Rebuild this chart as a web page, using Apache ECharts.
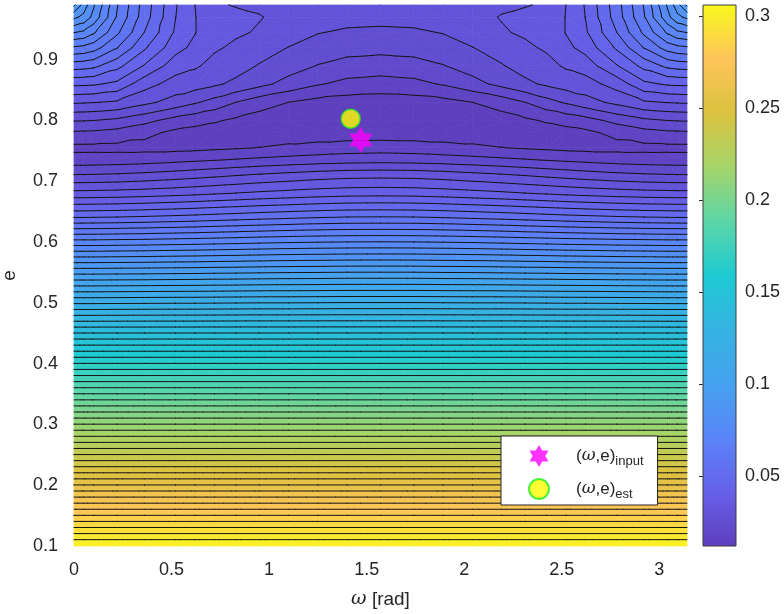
<!DOCTYPE html>
<html>
<head>
<meta charset="utf-8">
<script src="https://cdn.jsdelivr.net/npm/echarts@6/dist/echarts.min.js"></script>
<style>
  html, body { margin: 0; background: #fff; }
  #chart { width: 784px; height: 614px; }
</style>
</head>
<body>
<div id="chart"></div>
<script>
// grid of the cost surface (symmetric about pi/2)
const omegaCols = [0, 0.05, 0.1, 0.22, 0.36, 0.52, 0.62, 0.72, 0.83, 0.95, 1.10, 1.25, 1.40, 1.5708,
  1.7416, 1.8916, 2.0416, 2.1916, 2.3116, 2.4216, 2.5216, 2.6216, 2.7816, 2.9216, 3.0416, 3.0916, 3.1416];
const eRows = [0.10, 0.15, 0.20, 0.25, 0.30, 0.35, 0.40, 0.45, 0.50, 0.55, 0.60, 0.64, 0.68,
  0.71, 0.735, 0.755, 0.78, 0.80, 0.83, 0.86, 0.89, 0.92, 0.945, 0.97, 0.99];
const zGrid = [
  [0.306, 0.306, 0.306, 0.306, 0.306, 0.306, 0.306, 0.306, 0.306, 0.306, 0.306, 0.306, 0.306, 0.306, 0.306, 0.306, 0.306, 0.306, 0.306, 0.306, 0.306, 0.306, 0.306, 0.306, 0.306, 0.306, 0.306],
  [0.283, 0.283, 0.283, 0.283, 0.283, 0.283, 0.283, 0.283, 0.283, 0.283, 0.283, 0.283, 0.283, 0.283, 0.283, 0.283, 0.283, 0.283, 0.283, 0.283, 0.283, 0.283, 0.283, 0.283, 0.283, 0.283, 0.283],
  [0.260, 0.260, 0.260, 0.260, 0.260, 0.260, 0.260, 0.260, 0.260, 0.260, 0.260, 0.260, 0.260, 0.260, 0.260, 0.260, 0.260, 0.260, 0.260, 0.260, 0.260, 0.260, 0.260, 0.260, 0.260, 0.260, 0.260],
  [0.237, 0.237, 0.237, 0.237, 0.237, 0.237, 0.237, 0.237, 0.237, 0.237, 0.237, 0.237, 0.237, 0.237, 0.237, 0.237, 0.237, 0.237, 0.237, 0.237, 0.237, 0.237, 0.237, 0.237, 0.237, 0.237, 0.237],
  [0.214, 0.214, 0.214, 0.214, 0.214, 0.214, 0.214, 0.214, 0.214, 0.214, 0.214, 0.214, 0.214, 0.214, 0.214, 0.214, 0.214, 0.214, 0.214, 0.214, 0.214, 0.214, 0.214, 0.214, 0.214, 0.214, 0.214],
  [0.191, 0.191, 0.191, 0.191, 0.191, 0.191, 0.191, 0.191, 0.191, 0.191, 0.191, 0.191, 0.191, 0.191, 0.191, 0.191, 0.191, 0.191, 0.191, 0.191, 0.191, 0.191, 0.191, 0.191, 0.191, 0.191, 0.191],
  [0.168, 0.168, 0.168, 0.168, 0.168, 0.168, 0.168, 0.168, 0.168, 0.168, 0.168, 0.168, 0.168, 0.168, 0.168, 0.168, 0.168, 0.168, 0.168, 0.168, 0.168, 0.168, 0.168, 0.168, 0.168, 0.168, 0.168],
  [0.145, 0.145, 0.145, 0.145, 0.145, 0.145, 0.145, 0.145, 0.145, 0.145, 0.145, 0.145, 0.145, 0.145, 0.145, 0.145, 0.145, 0.145, 0.145, 0.145, 0.145, 0.145, 0.145, 0.145, 0.145, 0.145, 0.145],
  [0.1212, 0.1212, 0.1212, 0.1213, 0.1214, 0.1215, 0.1215, 0.1216, 0.1217, 0.1218, 0.1218, 0.1219, 0.1220, 0.1220, 0.1220, 0.1219, 0.1218, 0.1218, 0.1217, 0.1216, 0.1215, 0.1215, 0.1214, 0.1213, 0.1212, 0.1212, 0.1212],
  [0.0975, 0.0975, 0.0975, 0.0976, 0.0977, 0.0979, 0.0980, 0.0982, 0.0983, 0.0985, 0.0987, 0.0988, 0.0990, 0.0990, 0.0990, 0.0988, 0.0987, 0.0985, 0.0983, 0.0982, 0.0980, 0.0979, 0.0977, 0.0976, 0.0975, 0.0975, 0.0975],
  [0.0730, 0.0730, 0.0730, 0.0732, 0.0734, 0.0738, 0.0740, 0.0743, 0.0746, 0.0750, 0.0754, 0.0757, 0.0759, 0.0760, 0.0759, 0.0757, 0.0754, 0.0750, 0.0746, 0.0743, 0.0740, 0.0738, 0.0734, 0.0732, 0.0730, 0.0730, 0.0730],
  [0.0530, 0.0530, 0.0531, 0.0533, 0.0537, 0.0543, 0.0547, 0.0552, 0.0557, 0.0563, 0.0569, 0.0575, 0.0579, 0.0580, 0.0579, 0.0575, 0.0569, 0.0563, 0.0557, 0.0552, 0.0547, 0.0543, 0.0537, 0.0533, 0.0531, 0.0530, 0.0530],
  [0.0360, 0.0360, 0.0361, 0.0363, 0.0368, 0.0375, 0.0380, 0.0386, 0.0392, 0.0399, 0.0406, 0.0413, 0.0418, 0.0420, 0.0418, 0.0413, 0.0406, 0.0399, 0.0392, 0.0386, 0.0380, 0.0375, 0.0368, 0.0363, 0.0361, 0.0360, 0.0360],
  [0.0255, 0.0255, 0.0256, 0.0259, 0.0265, 0.0274, 0.0281, 0.0288, 0.0296, 0.0304, 0.0313, 0.0322, 0.0328, 0.0330, 0.0328, 0.0322, 0.0313, 0.0304, 0.0296, 0.0288, 0.0281, 0.0274, 0.0265, 0.0259, 0.0256, 0.0255, 0.0255],
  [0.0180, 0.0180, 0.0181, 0.0183, 0.0187, 0.0194, 0.0199, 0.0204, 0.0210, 0.0216, 0.0223, 0.0229, 0.0233, 0.0235, 0.0233, 0.0229, 0.0223, 0.0216, 0.0210, 0.0204, 0.0199, 0.0194, 0.0187, 0.0183, 0.0181, 0.0180, 0.0180],
  [0.0148, 0.0148, 0.0148, 0.0147, 0.0146, 0.0146, 0.0148, 0.0152, 0.0156, 0.0161, 0.0168, 0.0175, 0.0182, 0.0185, 0.0182, 0.0175, 0.0168, 0.0161, 0.0156, 0.0152, 0.0148, 0.0146, 0.0146, 0.0147, 0.0148, 0.0148, 0.0148],
  [0.0200, 0.0199, 0.0198, 0.0190, 0.0172, 0.0150, 0.0144, 0.0140, 0.0140, 0.0140, 0.0138, 0.0136, 0.0135, 0.0135, 0.0135, 0.0136, 0.0138, 0.0140, 0.0140, 0.0140, 0.0144, 0.0150, 0.0172, 0.0190, 0.0198, 0.0199, 0.0200],
  [0.0255, 0.0254, 0.0252, 0.0242, 0.0220, 0.0188, 0.0176, 0.0165, 0.0152, 0.0140, 0.0131, 0.0124, 0.0120, 0.0118, 0.0120, 0.0124, 0.0131, 0.0140, 0.0152, 0.0165, 0.0176, 0.0188, 0.0220, 0.0242, 0.0252, 0.0254, 0.0255],
  [0.0350, 0.0348, 0.0346, 0.0338, 0.0310, 0.0280, 0.0258, 0.0235, 0.0206, 0.0180, 0.0160, 0.0145, 0.0140, 0.0138, 0.0140, 0.0145, 0.0160, 0.0180, 0.0206, 0.0235, 0.0258, 0.0280, 0.0310, 0.0338, 0.0346, 0.0348, 0.0350],
  [0.0445, 0.0444, 0.0442, 0.0425, 0.0362, 0.0325, 0.0318, 0.0305, 0.0288, 0.0265, 0.0236, 0.0210, 0.0192, 0.0185, 0.0192, 0.0210, 0.0236, 0.0265, 0.0288, 0.0305, 0.0318, 0.0325, 0.0362, 0.0425, 0.0442, 0.0444, 0.0445],
  [0.0550, 0.0547, 0.0540, 0.0497, 0.0433, 0.0365, 0.0350, 0.0330, 0.0316, 0.0295, 0.0272, 0.0250, 0.0237, 0.0232, 0.0237, 0.0250, 0.0272, 0.0295, 0.0316, 0.0330, 0.0350, 0.0365, 0.0433, 0.0497, 0.0540, 0.0547, 0.0550],
  [0.0660, 0.0655, 0.0641, 0.0577, 0.0490, 0.0407, 0.0378, 0.0350, 0.0336, 0.0318, 0.0297, 0.0278, 0.0268, 0.0265, 0.0268, 0.0278, 0.0297, 0.0318, 0.0336, 0.0350, 0.0378, 0.0407, 0.0490, 0.0577, 0.0641, 0.0655, 0.0660],
  [0.0760, 0.0749, 0.0720, 0.0630, 0.0528, 0.0430, 0.0392, 0.0356, 0.0350, 0.0340, 0.0318, 0.0300, 0.0292, 0.0290, 0.0292, 0.0300, 0.0318, 0.0340, 0.0350, 0.0356, 0.0392, 0.0430, 0.0528, 0.0630, 0.0720, 0.0749, 0.0760],
  [0.0860, 0.0838, 0.0790, 0.0662, 0.0550, 0.0437, 0.0392, 0.0354, 0.0352, 0.0346, 0.0332, 0.0318, 0.0312, 0.0310, 0.0312, 0.0318, 0.0332, 0.0346, 0.0352, 0.0354, 0.0392, 0.0437, 0.0550, 0.0662, 0.0790, 0.0838, 0.0860],
  [0.0950, 0.0875, 0.0810, 0.0670, 0.0555, 0.0440, 0.0390, 0.0348, 0.0342, 0.0338, 0.0333, 0.0330, 0.0330, 0.0330, 0.0330, 0.0330, 0.0333, 0.0338, 0.0342, 0.0348, 0.0390, 0.0440, 0.0555, 0.0670, 0.0810, 0.0875, 0.0950]
];
const contourLevels = [
  0.0160, 0.0206, 0.0252, 0.0298, 0.0344, 0.0390, 0.0436, 0.0482, 0.0528, 0.0574,
  0.0620, 0.0666, 0.0712, 0.0758, 0.0804, 0.0850, 0.0896, 0.0942, 0.0988, 0.1034,
  0.1080, 0.1126, 0.1172, 0.1218, 0.1264, 0.1310, 0.1356, 0.1402, 0.1448, 0.1494,
  0.1540, 0.1586, 0.1632, 0.1678, 0.1724, 0.1770, 0.1816, 0.1862, 0.1908, 0.1954,
  0.2000, 0.2046, 0.2092, 0.2138, 0.2184, 0.2230, 0.2276, 0.2322, 0.2368, 0.2414,
  0.2460, 0.2506, 0.2552, 0.2598, 0.2644, 0.2690, 0.2736, 0.2782, 0.2828, 0.2874,
  0.2920, 0.2966, 0.3012
];
const zMin = 0.0118;
const zMax = 0.306;
const inputPoint = [1.47, 0.768];
const estPoint = [1.418, 0.803];
const xTicks = [0, 0.5, 1, 1.5, 2, 2.5, 3];
const yTicks = [0.1, 0.2, 0.3, 0.4, 0.5, 0.6, 0.7, 0.8, 0.9];
const cbTicks = [0.05, 0.1, 0.15, 0.2, 0.25, 0.3];

// colormap (parula-like, as it appears in the picture)
const palette = ['#5e3fbe', '#6660e8', '#5a84f8', '#45a2ef', '#35b3e2', '#1ecad2',
  '#5cd6a8', '#a5d46a', '#dbc23e', '#fec55a', '#f8f81c'];
const textColor = '#262626';
const font = 'Liberation Sans, Arial, Helvetica, sans-serif';

function colorAt(v) {
  const t = Math.max(0, Math.min(1, (v - zMin) / (zMax - zMin)));
  return echarts.color.lerp(t, palette);
}

// split every grid cell into two triangles (linear inside each)
const tris = [];
for (let i = 0; i < eRows.length - 1; i++) {
  for (let j = 0; j < omegaCols.length - 1; j++) {
    const v = (r, c) => ({ x: omegaCols[c], y: eRows[r], z: zGrid[r][c] });
    const a = v(i, j), b = v(i, j + 1), c = v(i + 1, j + 1), d = v(i + 1, j);
    if (Math.abs(a.z - c.z) <= Math.abs(b.z - d.z)) {
      tris.push([a, b, c], [a, c, d]);
    } else {
      tris.push([a, b, d], [b, c, d]);
    }
  }
}

function clip(poly, level, keepAbove) {
  const out = [];
  for (let k = 0; k < poly.length; k++) {
    const p = poly[k], q = poly[(k + 1) % poly.length];
    const pin = keepAbove ? p.z >= level : p.z < level;
    const qin = keepAbove ? q.z >= level : q.z < level;
    if (pin) out.push(p);
    if (pin !== qin) {
      const t = (level - p.z) / (q.z - p.z);
      out.push({ x: p.x + t * (q.x - p.x), y: p.y + t * (q.y - p.y), z: level });
    }
  }
  return out;
}

// filled bands between contour levels
const bounds = [-Infinity].concat(contourLevels, [Infinity]);
const bandPolys = [];
tris.forEach(t => {
  const zs = t.map(p => p.z);
  const lo = Math.min.apply(null, zs), hi = Math.max.apply(null, zs);
  for (let k = 0; k < bounds.length - 1; k++) {
    if (bounds[k + 1] <= lo || bounds[k] > hi) continue;
    const poly = clip(clip(t, bounds[k], true), bounds[k + 1], false);
    if (poly.length >= 3) {
      bandPolys.push({
        pts: poly.map(p => [p.x, p.y]),
        color: colorAt(k === 0 ? zMin : contourLevels[k - 1])
      });
    }
  }
});

// contour segments per level
const levelSegs = contourLevels.map(() => []);
tris.forEach(t => {
  const zs = t.map(p => p.z);
  const lo = Math.min.apply(null, zs), hi = Math.max.apply(null, zs);
  contourLevels.forEach((L, k) => {
    if (L < lo || L > hi) return;
    const pts = [];
    for (let m = 0; m < 3; m++) {
      const p = t[m], q = t[(m + 1) % 3];
      if ((p.z >= L) !== (q.z >= L)) {
        const s = (L - p.z) / (q.z - p.z);
        pts.push([p.x + s * (q.x - p.x), p.y + s * (q.y - p.y)]);
      }
    }
    if (pts.length === 2) levelSegs[k].push(pts);
  });
});

const hexagram = 'path://M0,-10L2.887,-5L8.66,-5L5.774,0L8.66,5L2.887,5L0,10L-2.887,5L-8.66,5L-5.774,0L-8.66,-5L-2.887,-5Z';

const chart = echarts.init(document.getElementById('chart'));
chart.setOption({
  animation: false,
  backgroundColor: '#fff',
  textStyle: { fontFamily: font },
  grid: [
    { left: 74, top: 5, width: 613, height: 541, outerBoundsMode: 'none', containLabel: false },
    { left: 703, top: 5, width: 33, height: 541, outerBoundsMode: 'none', containLabel: false }
  ],
  xAxis: [
    {
      type: 'value', gridIndex: 0, min: 0, max: 3.1416,
      name: '{w|ω} [rad]', nameLocation: 'middle', nameGap: 44,
      nameTextStyle: {
        color: textColor, fontSize: 19, fontFamily: font,
        rich: { w: { fontStyle: 'italic', fontSize: 19, color: textColor, fontFamily: 'DejaVu Serif' } }
      },
      axisLine: { show: false },
      axisTick: { show: false },
      splitLine: { show: false },
      axisLabel: { customValues: xTicks, color: textColor, fontSize: 18, margin: 15 }
    },
    { type: 'value', gridIndex: 1, min: 0, max: 1, show: false }
  ],
  yAxis: [
    {
      type: 'value', gridIndex: 0, min: 0.1, max: 0.99,
      name: 'e', nameLocation: 'middle', nameGap: 55, nameRotate: 90,
      nameTextStyle: { color: textColor, fontSize: 19 },
      axisLine: { show: false },
      axisTick: { show: false },
      splitLine: { show: false },
      axisLabel: { customValues: yTicks, color: textColor, fontSize: 18, margin: 16 }
    },
    {
      type: 'value', gridIndex: 1, min: zMin, max: zMax, position: 'right',
      axisLine: { show: false },
      axisTick: { show: true, inside: true, length: 4, customValues: cbTicks, lineStyle: { color: textColor } },
      splitLine: { show: false },
      axisLabel: { customValues: cbTicks, color: textColor, fontSize: 18, margin: 9 }
    }
  ],
  legend: {
    data: [{ name: 'input', icon: hexagram }, { name: 'est', icon: 'circle' }],
    orient: 'vertical',
    left: 501, top: 436,
    padding: [9, 14, 4, 27],
    itemGap: 10, itemWidth: 20, itemHeight: 22,
    backgroundColor: '#fff', borderColor: textColor, borderWidth: 1, borderRadius: 0,
    formatter: n => '{b|(}{w|ω}{b|,e)}{s|' + n + '}',
    textStyle: {
      padding: [0, 0, 0, 22],
      rich: {
        b: { fontSize: 17, color: textColor, fontFamily: font },
        w: { fontSize: 17, color: textColor, fontStyle: 'italic', fontFamily: 'DejaVu Serif' },
        s: { fontSize: 13, color: textColor, fontFamily: font, padding: [11, 0, 0, 0] }
      }
    }
  },
  series: [
    {
      type: 'custom', name: 'surface', xAxisIndex: 0, yAxisIndex: 0, z: 1, silent: true,
      data: bandPolys.map(b => b.pts[0]),
      renderItem: (params, api) => {
        const b = bandPolys[params.dataIndex];
        return {
          type: 'polygon',
          shape: { points: b.pts.map(p => api.coord(p)) },
          style: { fill: b.color, stroke: b.color, lineWidth: 0.7 }
        };
      }
    },
    {
      type: 'custom', name: 'contours', xAxisIndex: 0, yAxisIndex: 0, z: 2, silent: true,
      data: contourLevels.map(() => [0, 0.5]),
      renderItem: (params, api) => {
        const segs = levelSegs[params.dataIndex];
        return {
          type: 'group',
          children: segs.map(s => {
            const a = api.coord(s[0]), b = api.coord(s[1]);
            return {
              type: 'line',
              shape: { x1: a[0], y1: a[1], x2: b[0], y2: b[1] },
              style: { stroke: '#141414', lineWidth: 1, lineCap: 'round' }
            };
          })
        };
      }
    },
    {
      type: 'scatter', name: 'input', xAxisIndex: 0, yAxisIndex: 0, z: 3,
      data: [inputPoint], symbol: hexagram, symbolSize: [23, 26],
      itemStyle: { color: '#ff00ff' }
    },
    {
      type: 'scatter', name: 'est', xAxisIndex: 0, yAxisIndex: 0, z: 4,
      data: [estPoint], symbol: 'circle', symbolSize: 19,
      itemStyle: { color: '#ffff00', borderColor: '#22ee22', borderWidth: 1.5 }
    },
    {
      type: 'custom', name: 'colorbar', xAxisIndex: 1, yAxisIndex: 1, z: 1, silent: true,
      data: [[0, zMin]],
      renderItem: (params, api) => {
        const p0 = api.coord([0, zMin]), p1 = api.coord([1, zMax]);
        return {
          type: 'rect',
          shape: { x: p0[0], y: p1[1], width: p1[0] - p0[0], height: p0[1] - p1[1] },
          style: {
            fill: new echarts.graphic.LinearGradient(0, 1, 0, 0,
              palette.map((c, i) => ({ offset: i / (palette.length - 1), color: c }))),
            stroke: '#3a3a3a', lineWidth: 1
          }
        };
      }
    }
  ]
});
</script>
</body>
</html>
